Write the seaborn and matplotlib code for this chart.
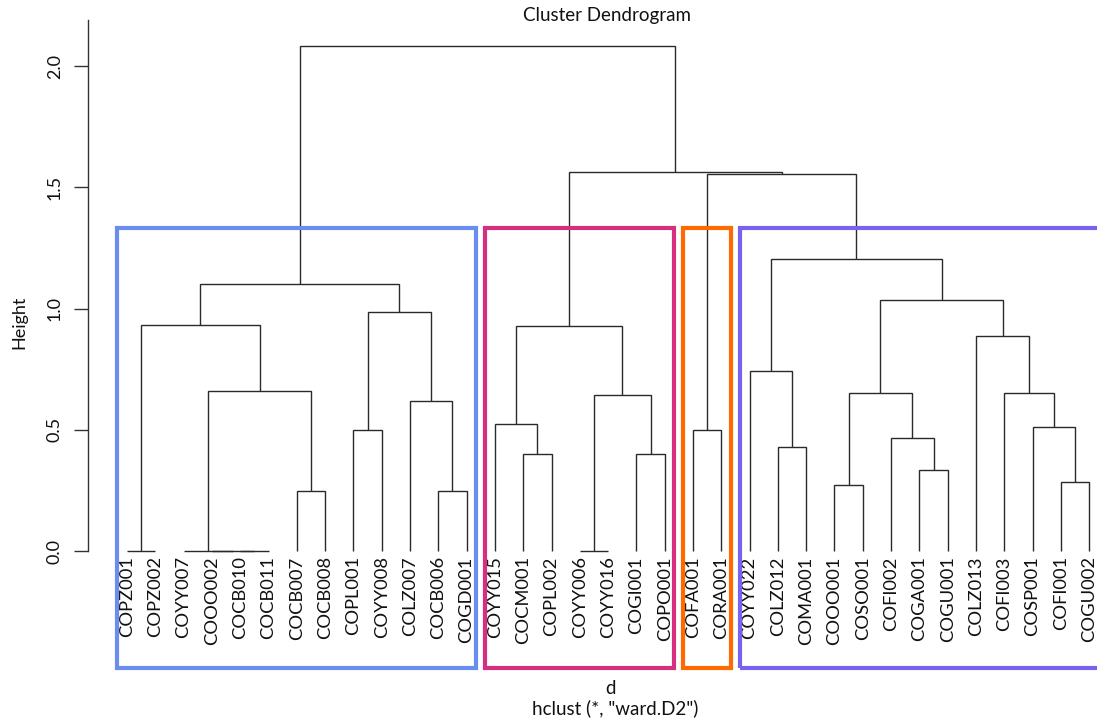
import matplotlib
matplotlib.use("Agg")
import matplotlib.pyplot as plt
import seaborn as sns
from matplotlib.patches import Rectangle

# ---------------- data ----------------
leaf_labels = ["COPZ001", "COPZ002", "COYY007", "COOO002", "COCB010", "COCB011",
               "COCB007", "COCB008", "COPL001", "COYY008", "COLZ007", "COCB006",
               "COGD001", "COYY015", "COCM001", "COPL002", "COYY006", "COYY016",
               "COGI001", "COPO001", "COFA001", "CORA001", "COYY022", "COLZ012",
               "COMA001", "COOO001", "COSO001", "COFI002", "COGA001", "COGU001",
               "COLZ013", "COFI003", "COSP001", "COFI001", "COGU002"]

# merge table (hclust style): a leaf name or the index of an earlier merge
merge_a = ["COPZ001", "COCB010", "COOO002", "COYY007", "COCB007", 3, 0,
           "COPL001", "COCB006", "COLZ007", 7, 6,
           "COCM001", "COYY015", "COYY006", "COGI001", 14, 13,
           "COFA001", "COLZ012", "COYY022", "COOO001", "COGA001", "COFI002", 21,
           "COFI001", "COSP001", "COFI003", "COLZ013", 24, 20, 18, 17, 11]
merge_b = ["COPZ002", "COCB011", 1, 2, "COCB008", 4, 5,
           "COYY008", "COGD001", 8, 9, 10,
           "COPL002", 12, "COYY016", "COPO001", 15, 16,
           "CORA001", "COMA001", 19, "COSO001", "COGU001", 22, 23,
           "COGU002", 25, 26, 27, 28, 29, 30, 31, 32]
merge_h = [0.0, 0.0, 0.0, 0.0, 0.248, 0.660, 0.933,
           0.499, 0.248, 0.617, 0.984, 1.101,
           0.398, 0.524, 0.0, 0.398, 0.643, 0.927,
           0.500, 0.428, 0.742, 0.273, 0.332, 0.464, 0.650,
           0.284, 0.510, 0.650, 0.885, 1.036, 1.206, 1.554, 1.564, 2.082]

cluster_sizes = [13, 7, 2, 13]
cluster_colors = ["#6B8EEE", "#D62F7D", "#FF6A00", "#7B62EE"]
rect_top = 1.33

y_ticks = [0.0, 0.5, 1.0, 1.5, 2.0]
y_tick_labels = ["0.0", "0.5", "1.0", "1.5", "2.0"]

# ---------------- style ----------------
sns.set_theme(style="white")
plt.rcParams['font.family'] = ['Lato', 'DejaVu Sans']

W_PX, H_PX = 1097, 720
fig = plt.figure(figsize=(W_PX / 100, H_PX / 100), dpi=100)
fig.patch.set_facecolor("white")

ax_l, ax_r, ax_b, ax_t = 88, 1097, 668, 20
ax = fig.add_axes([ax_l / W_PX, 1 - ax_b / H_PX, (ax_r - ax_l) / W_PX, (ax_b - ax_t) / H_PX])
ax.set_facecolor("white")

x0_px, dx_px = 127.0, 28.3
y0_px, dy_px = 551.0, 242.5
ax.set_xlim((ax_l - x0_px) / dx_px, (ax_r - x0_px) / dx_px)
ax.set_ylim((y0_px - ax_b) / dy_px, (y0_px - ax_t) / dy_px)

# ---------------- dendrogram ----------------
line_kw = dict(color="#2a2a2a", lw=1.0, solid_capstyle="butt", solid_joinstyle="miter")
merge_x = []


def node_xy(ref):
    if isinstance(ref, str):
        return float(leaf_labels.index(ref)), 0.0
    return merge_x[ref], merge_h[ref]


for a, b, h in zip(merge_a, merge_b, merge_h):
    xa, ya = node_xy(a)
    xb, yb = node_xy(b)
    ax.plot([xa, xa, xb, xb], [ya, h, h, yb], **line_kw)
    merge_x.append((xa + xb) / 2)

for i, lab in enumerate(leaf_labels):
    ax.text(i, -0.022, lab, rotation=90, ha="center", va="top", fontsize=13.2,
            color="#111111")

# ---------------- cluster rectangles ----------------
ybot = ax.get_ylim()[0]
start = 0
for size, col in zip(cluster_sizes, cluster_colors):
    left = start - 0.34
    right = start + size - 1 + 0.33
    ax.add_patch(Rectangle((left, ybot), right - left, rect_top - ybot,
                           fill=False, edgecolor=col, lw=3.0, clip_on=False,
                           joinstyle="miter", zorder=3))
    start += size

# ---------------- axes ----------------
sns.despine(ax=ax, top=True, right=True, bottom=True, left=False)
ax.spines["left"].set_color("#333333")
ax.spines["left"].set_linewidth(1.0)
ax.spines["left"].set_bounds(0.0, ax.get_ylim()[1])
ax.set_xticks([])
ax.set_yticks(y_ticks)
ax.set_yticklabels(y_tick_labels, rotation=90, va="center", fontsize=13)
ax.tick_params(axis="y", left=True, length=10, width=1.0, color="#333333",
               pad=8, labelcolor="#111111")
ax.grid(False)

fig.text(19 / W_PX, 1 - 322 / H_PX, "Height", rotation=90, ha="center",
         va="center", fontsize=13, color="#111111")
fig.text(607 / W_PX, 1 - 16 / H_PX, "Cluster Dendrogram", ha="center",
         va="center", fontsize=13.5, color="#111111")
fig.text(611 / W_PX, 1 - 689 / H_PX, "d", ha="center", va="center",
         fontsize=13.5, color="#111111")
fig.text(615 / W_PX, 1 - 708 / H_PX, 'hclust (*, "ward.D2")', ha="center",
         va="center", fontsize=13.5, color="#111111")

fig.savefig("out.png", dpi=100, facecolor="white")
